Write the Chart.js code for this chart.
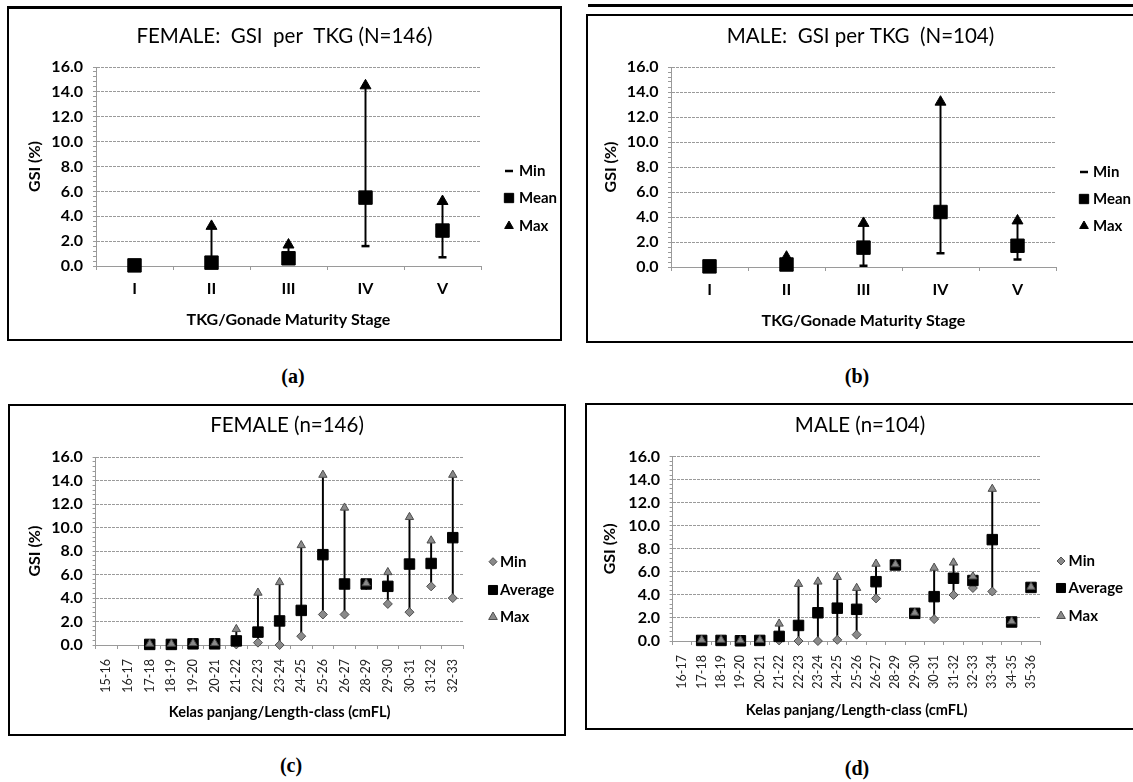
<!DOCTYPE html>
<html><head><meta charset="utf-8">
<script src="https://cdn.jsdelivr.net/npm/chart.js@4.4.1/dist/chart.umd.min.js"></script>
<style>
html,body{margin:0;padding:0;background:#fff;width:1133px;height:782px;overflow:hidden;position:relative;font-family:Lato,"Open Sans",sans-serif}
.box{position:absolute;border:2px solid #000;box-sizing:border-box}
.line{position:absolute;background:#000}
canvas{position:absolute;display:block}
.cap{position:absolute;font-family:"Liberation Serif","Times New Roman",serif;font-weight:bold;font-size:20px;transform:translate(-50%,-50%);white-space:nowrap}
</style></head><body>
<div class="box" style="left:7px;top:6px;width:555px;height:335px;border-top-width:3px"></div>
<div class="line" style="left:588px;top:4px;width:545px;height:3px"></div>
<div class="box" style="left:586px;top:14px;width:560px;height:329px"></div>
<div class="box" style="left:8px;top:404px;width:558px;height:332px"></div>
<div class="box" style="left:585px;top:403px;width:560px;height:327px"></div>
<canvas id="ca" width="551" height="330" style="left:9px;top:9px"></canvas>
<canvas id="cb" width="545" height="325" style="left:588px;top:16px"></canvas>
<canvas id="cc" width="554" height="328" style="left:10px;top:406px"></canvas>
<canvas id="cd" width="546" height="323" style="left:587px;top:405px"></canvas>
<div class="cap" style="left:293px;top:376px">(a)</div>
<div class="cap" style="left:857px;top:376px">(b)</div>
<div class="cap" style="left:291px;top:765px">(c)</div>
<div class="cap" style="left:857px;top:768px">(d)</div>
<script>
// ---------------- DATA ----------------
const tkgStages = ['I', 'II', 'III', 'IV', 'V'];
const femaleTkgMin  = [0.0, 0.05, 0.2, 1.6, 0.7];
const femaleTkgMean = [0.05, 0.27, 0.62, 5.5, 2.85];
const femaleTkgMax  = [0.05, 3.2, 1.7, 14.5, 5.2];
const maleTkgMin  = [0.0, 0.02, 0.1, 1.1, 0.6];
const maleTkgMean = [0.05, 0.2, 1.55, 4.4, 1.7];
const maleTkgMax  = [0.05, 0.8, 3.5, 13.2, 3.7];

const femaleLengthClasses = ['15-16','16-17','17-18','18-19','19-20','20-21','21-22','22-23','23-24','24-25','25-26','26-27','28-29','29-30','30-31','31-32','32-33'];
const femaleLenMin = [null, null, 0.02, 0.02, 0.05, 0.05, 0.05, 0.2, 0.0, 0.75, 2.6, 2.6, 5.1, 3.5, 2.8, 5.0, 4.0];
const femaleLenAvg = [null, null, 0.05, 0.05, 0.1, 0.1, 0.35, 1.1, 2.05, 2.95, 7.7, 5.2, 5.2, 5.0, 6.9, 6.95, 9.15];
const femaleLenMax = [null, null, 0.1, 0.1, 0.15, 0.15, 1.35, 4.45, 5.35, 8.5, 14.5, 11.7, 5.25, 6.2, 10.9, 8.9, 14.5];

const maleLengthClasses = ['16-17','17-18','18-19','19-20','20-21','21-22','22-23','23-24','24-25','25-26','26-27','28-29','29-30','30-31','31-32','32-33','33-34','34-35','35-36'];
const maleLenMin = [null, 0.02, 0.02, 0.0, 0.02, 0.05, 0.0, 0.0, 0.1, 0.55, 3.7, 6.6, 2.4, 1.9, 4.0, 4.6, 4.3, 1.65, 4.65];
const maleLenAvg = [null, 0.05, 0.05, 0.02, 0.05, 0.4, 1.35, 2.45, 2.85, 2.75, 5.15, 6.6, 2.4, 3.85, 5.45, 5.25, 8.8, 1.65, 4.65];
const maleLenMax = [null, 0.1, 0.1, 0.05, 0.1, 1.5, 4.95, 5.15, 5.55, 4.6, 6.7, 6.65, 2.45, 6.35, 6.8, 5.6, 13.2, 1.7, 4.7];

const gsiTickLabels = ['0.0','2.0','4.0','6.0','8.0','10.0','12.0','14.0','16.0'];

// ---------------- CHART BUILDING ----------------
const FONT = 'Lato, "Open Sans", sans-serif';
Chart.defaults.font.family = FONT;
Chart.defaults.color = '#000';

function isMajor(v) { return Math.abs(v / 2 - Math.round(v / 2)) < 1e-6; }

function fallbackPoint(ctx, o, x, y) {
  const r = o.radius; ctx.beginPath();
  if (o.pointStyle === 'rect') { const s = r * Math.SQRT1_2; ctx.rect(x - s, y - s, 2 * s, 2 * s); }
  else if (o.pointStyle === 'rectRot') { ctx.moveTo(x - r, y); ctx.lineTo(x, y - r); ctx.lineTo(x + r, y); ctx.lineTo(x, y + r); ctx.closePath(); }
  else if (o.pointStyle === 'triangle') { ctx.moveTo(x, y - r); ctx.lineTo(x + r * 0.866, y + r / 2); ctx.lineTo(x - r * 0.866, y + r / 2); ctx.closePath(); }
  else if (o.pointStyle === 'line') { ctx.moveTo(x - r, y); ctx.lineTo(x + r, y); }
  if (o.pointStyle !== 'line') ctx.fill();
  if (o.borderWidth > 0) ctx.stroke();
}

const sideLegend = {
  id: 'sideLegend',
  afterDraw(chart, args, opts) {
    if (!opts || !opts.items) return;
    const ctx = chart.ctx;
    ctx.save();
    ctx.font = opts.font;
    ctx.textBaseline = 'middle';
    ctx.textAlign = 'left';
    opts.items.forEach((it, i) => {
      const y = opts.ys[i];
      ctx.fillStyle = it.fill; ctx.strokeStyle = it.stroke; ctx.lineWidth = it.lineWidth;
      const o = {pointStyle: it.style, radius: it.radius, rotation: 0, borderWidth: it.lineWidth};
      if (Chart.helpers && Chart.helpers.drawPoint) Chart.helpers.drawPoint(ctx, o, opts.markerX, y);
      else fallbackPoint(ctx, o, opts.markerX, y);
      ctx.fillStyle = '#000';
      ctx.fillText(it.text, opts.textX, y);
    });
    ctx.restore();
  }
};

const STYLES = {
  tkg: {
    min: {style: 'line', radius: 4, fill: '#000', stroke: '#000', bw: 2.5, order: 2, lg: {radius: 4, lineWidth: 2.5}},
    mid: {style: 'rect', radius: 9.5, fill: '#000', stroke: '#000', bw: 1, order: 0, lg: {radius: 6.6, lineWidth: 1}},
    max: {style: 'triangle', radius: 6.3, fill: '#000', stroke: '#000', bw: 1, order: 1, lg: {radius: 5, lineWidth: 1}}
  },
  len: {
    min: {style: 'rectRot', radius: 4.5, fill: '#8a8a8a', stroke: '#4d4d4d', bw: 1, order: 2, lg: {radius: 4, lineWidth: 1}},
    mid: {style: 'rect', radius: 7.4, fill: '#000', stroke: '#000', bw: 1, order: 1, lg: {radius: 6.4, lineWidth: 1}},
    max: {style: 'triangle', radius: 4.8, fill: '#8a8a8a', stroke: '#4d4d4d', bw: 1, order: 0, lg: {radius: 5, lineWidth: 1}}
  }
};

function pointSet(label, data, s) {
  return {
    type: 'line', label, data, showLine: false, clip: false,
    pointStyle: s.style, pointRadius: s.radius, pointHoverRadius: s.radius,
    pointBackgroundColor: s.fill, pointBorderColor: s.stroke, pointBorderWidth: s.bw,
    borderColor: s.stroke, backgroundColor: s.fill, order: s.order
  };
}

function makeChart(id, g, d) {
  const st = STYLES[d.kind];
  const names = ['Min', d.midName, 'Max'];
  const keys = ['min', 'mid', 'max'];
  const ranges = d.min.map((m, i) => (m == null || d.max[i] == null) ? null : [m, d.max[i]]);
  const datasets = [
    pointSet('Min', d.min, st.min),
    pointSet(d.midName, d.mid, st.mid),
    pointSet('Max', d.max, st.max),
    {type: 'bar', label: 'range', data: ranges, backgroundColor: '#000', borderWidth: 0, barThickness: 1.3, order: 3}
  ];
  const items = keys.map((k, i) => ({text: names[i], style: st[k].style, radius: st[k].lg.radius, lineWidth: st[k].lg.lineWidth, fill: st[k].fill, stroke: st[k].stroke}));
  new Chart(document.getElementById(id), {
    type: 'bar',
    data: {labels: d.labels, datasets},
    plugins: [sideLegend],
    options: {
      responsive: false, animation: false, events: [], devicePixelRatio: 1,
      layout: {padding: 0},
      plugins: {
        legend: {display: false}, tooltip: {enabled: false},
        title: {display: true, text: d.title, color: '#000', font: {size: 20.5, weight: 'normal', family: FONT},
                padding: {top: g.tTop, bottom: g.tBot}},
        sideLegend: {items, font: 'bold ' + g.lgFont + 'px ' + FONT, markerX: g.lgMarkerX, textX: g.lgTextX, ys: g.lgYs}
      },
      scales: {
        x: {
          type: 'category', offset: true,
          grid: {display: true, drawOnChartArea: false, drawTicks: true, tickLength: 4, tickColor: '#9a9a9a', offset: true},
          border: {display: true, color: '#9a9a9a', width: 1},
          ticks: {autoSkip: false, padding: g.xTickPad, color: d.kind === 'tkg' ? '#000' : '#222',
                  maxRotation: g.rot, minRotation: g.rot,
                  font: d.kind === 'tkg' ? {size: 16, weight: 'bold'} : {size: 12.5, weight: 'normal'}},
          title: {display: true, text: d.xTitle, color: '#000', font: {size: g.xTitleFont, weight: 'bold'}, padding: {top: 0, bottom: g.xTitlePad}},
          afterFit(s) { s.height = g.xAxisH; }
        },
        y: {
          min: 0, max: 16,
          grid: {display: true, drawTicks: true, tickLength: 3, tickColor: '#9a9a9a',
                 color: c => (c.tick && isMajor(c.tick.value)) ? '#9a9a9a' : 'rgba(0,0,0,0)'},
          border: {display: true, color: '#9a9a9a', width: 1, dash: [3, 1]},
          ticks: {stepSize: 0.4, maxTicksLimit: 50, autoSkip: false, padding: g.yTickPad, color: '#000',
                  font: {size: 16, weight: 'bold'},
                  callback: v => isMajor(v) ? gsiTickLabels[Math.round(v / 2)] : ''},
          title: {display: true, text: 'GSI (%)', color: '#000', font: {size: 16, weight: 'bold'}, padding: {top: g.yTitlePad, bottom: 0}},
          afterFit(s) { s.width = g.yAxisW; }
        },
        spacer: {
          type: 'linear', position: 'right', display: true,
          grid: {display: false, drawTicks: false}, border: {display: false}, ticks: {display: false},
          afterFit(s) { s.width = g.spacerW; }
        }
      }
    }
  });
}

makeChart('ca', {tTop: 14.7, tBot: 18.7, yAxisW: 87, spacerW: 79, xAxisH: 73, yTickPad: 10, yTitlePad: 16.4,
                 xTickPad: 9.4, xTitlePad: 10, xTitleFont: 16, rot: 0, lgFont: 15, lgMarkerX: 500, lgTextX: 510, lgYs: [162, 189, 217]},
  {kind: 'tkg', title: 'FEMALE:  GSI  per  TKG (N=146)', labels: tkgStages, min: femaleTkgMin, mid: femaleTkgMean, max: femaleTkgMax,
   midName: 'Mean', xTitle: 'TKG/Gonade Maturity Stage'});

makeChart('cb', {tTop: 7.7, tBot: 18.7, yAxisW: 83, spacerW: 77, xAxisH: 74, yTickPad: 9.5, yTitlePad: 13.4,
                 xTickPad: 8.9, xTitlePad: 11, xTitleFont: 16, rot: 0, lgFont: 15, lgMarkerX: 496, lgTextX: 505, lgYs: [156, 183, 210]},
  {kind: 'tkg', title: 'MALE:  GSI per TKG  (N=104)', labels: tkgStages, min: maleTkgMin, mid: maleTkgMean, max: maleTkgMax,
   midName: 'Mean', xTitle: 'TKG/Gonade Maturity Stage'});

makeChart('cc', {tTop: 7.4, tBot: 19.3, yAxisW: 85.6, spacerW: 100.4, xAxisH: 89, yTickPad: 9.7, yTitlePad: 14.9,
                 xTickPad: 10, xTitlePad: 13.2, xTitleFont: 14.5, rot: 90, lgFont: 15, lgMarkerX: 483, lgTextX: 490, lgYs: [155.7, 184, 211]},
  {kind: 'len', title: 'FEMALE (n=146)', labels: femaleLengthClasses, min: femaleLenMin, mid: femaleLenAvg, max: femaleLenMax,
   midName: 'Average', xTitle: 'Kelas panjang/Length-class (cmFL)'});

makeChart('cd', {tTop: 8.4, tBot: 18.7, yAxisW: 85.6, spacerW: 92.3, xAxisH: 87, yTickPad: 9.6, yTitlePad: 13.4,
                 xTickPad: 10, xTitlePad: 9.2, xTitleFont: 14.5, rot: 90, lgFont: 15, lgMarkerX: 474, lgTextX: 481.6, lgYs: [156, 183, 211]},
  {kind: 'len', title: 'MALE (n=104)', labels: maleLengthClasses, min: maleLenMin, mid: maleLenAvg, max: maleLenMax,
   midName: 'Average', xTitle: 'Kelas panjang/Length-class (cmFL)'});
</script>
</body></html>
